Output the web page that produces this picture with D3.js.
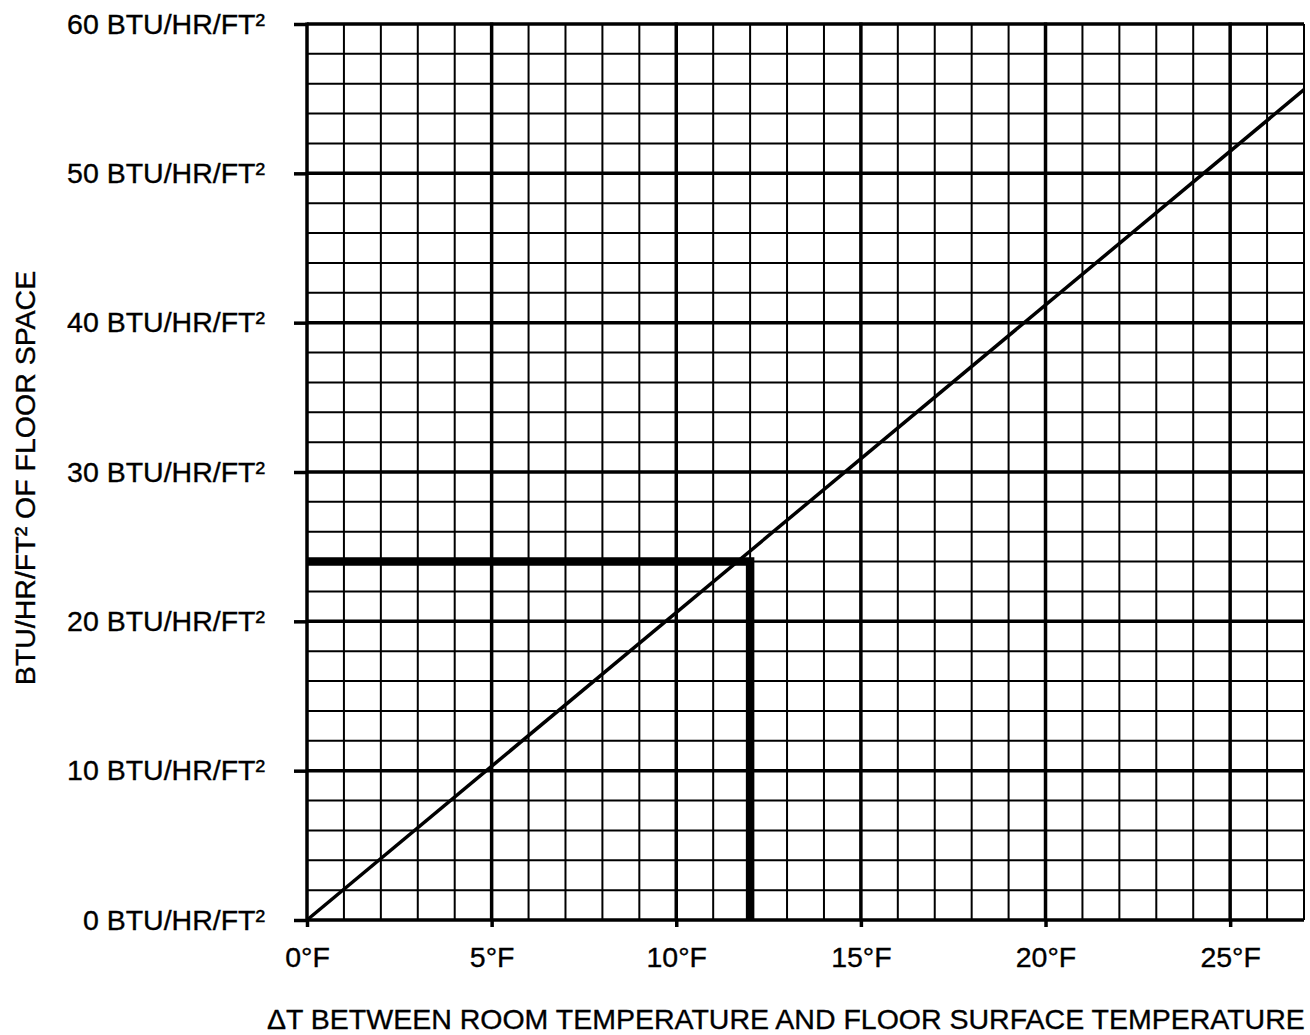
<!DOCTYPE html>
<html lang="en">
<head>
  <meta charset="UTF-8" />
  <title>Radiant floor output vs delta T</title>
  <style>
    body {
      margin: 0;
      background: white;
      overflow: hidden;
    }
    svg {
      display: block;
      font-family: "Liberation Sans", Arial, Helvetica, sans-serif;
    }
    text {
      fill: #000;
      stroke: #000;
      stroke-width: 0.35px;
    }
  </style>
</head>
<body>
<svg id="chart"></svg>
<script src="https://d3js.org/d3.v7.min.js"></script>
<script>
// chart values
const xMajorTicks = [0, 5, 10, 15, 20, 25];
const xTickLabels = ["0°F", "5°F", "10°F", "15°F", "20°F", "25°F"];
const xMinorTicks = d3.range(0, 28, 1);   // one grid line per degree
const yMajorTicks = [0, 10, 20, 30, 40, 50, 60];
const yTickLabels = yMajorTicks.map(v => v + " BTU/HR/FT²");
const yMinorTicks = d3.range(0, 62, 2);   // one grid line per 2 BTU

const lineTemp = [0, 27];
const lineBtu = [0, 55.6];

// the worked example: 12°F -> 24 BTU
const exampleTemp = 12;
const exampleBtu = 24;

const xTitle = "ΔT BETWEEN ROOM TEMPERATURE AND FLOOR SURFACE TEMPERATURE";
const yTitle = "BTU/HR/FT² OF FLOOR SPACE";

const width = 1310;
const height = 1035;
const margin = { top: 24, right: 6, bottom: 115, left: 307 };

const svg = d3.select("#chart")
  .attr("width", width)
  .attr("height", height)
  .attr("viewBox", [0, 0, width, height]);

svg.append("rect")
  .attr("width", width)
  .attr("height", height)
  .attr("fill", "white");

const x = d3.scaleLinear()
  .domain([0, 27])
  .range([margin.left, width - margin.right]);

const y = d3.scaleLinear()
  .domain([0, 60])
  .range([height - margin.bottom, margin.top]);

const x0 = x.range()[0], x1 = x.range()[1];
const y0 = y.range()[0], y1 = y.range()[1];

// minor grid
const grid = svg.append("g").attr("stroke", "#000");

grid.append("g")
  .attr("stroke-width", 2)
  .selectAll("line")
  .data(xMinorTicks.filter(d => !xMajorTicks.includes(d)))
  .join("line")
  .attr("x1", d => x(d)).attr("x2", d => x(d))
  .attr("y1", y1).attr("y2", y0);

grid.append("g")
  .attr("stroke-width", 2)
  .selectAll("line")
  .data(yMinorTicks.filter(d => !yMajorTicks.includes(d)))
  .join("line")
  .attr("y1", d => y(d)).attr("y2", d => y(d))
  .attr("x1", x0).attr("x2", x1);

// major grid lines, heavier
grid.append("g")
  .attr("stroke-width", 3.5)
  .selectAll("line")
  .data(xMajorTicks)
  .join("line")
  .attr("x1", d => x(d)).attr("x2", d => x(d))
  .attr("y1", y1 - 1.5).attr("y2", y0);

grid.append("g")
  .attr("stroke-width", 3.5)
  .selectAll("line")
  .data(yMajorTicks)
  .join("line")
  .attr("y1", d => y(d)).attr("y2", d => y(d))
  .attr("x1", x0).attr("x2", x1);

// axes: ticks stick out past the grid, labels
const fontSize = 28.5;

const xAxis = svg.append("g")
  .attr("transform", `translate(0,${y0})`)
  .call(d3.axisBottom(x)
    .tickValues(xMajorTicks)
    .tickFormat((d, i) => xTickLabels[i])
    .tickSize(7)
    .tickPadding(20));

const yAxis = svg.append("g")
  .attr("transform", `translate(${x0},0)`)
  .call(d3.axisLeft(y)
    .tickValues(yMajorTicks)
    .tickFormat((d, i) => yTickLabels[i])
    .tickSize(13)
    .tickPadding(29));

[xAxis, yAxis].forEach(a => {
  a.select(".domain").remove();
  a.attr("font-family", null).attr("font-size", null);
  a.selectAll(".tick line").attr("stroke", "#000").attr("stroke-width", 3.5);
  a.selectAll(".tick text").attr("fill", "#000").style("font-size", fontSize + "px");
});

// straight output line
const line = d3.line()
  .x(d => x(d[0]))
  .y(d => y(d[1]));

svg.append("path")
  .datum(lineTemp.map((t, i) => [t, lineBtu[i]]))
  .attr("d", line)
  .attr("fill", "none")
  .attr("stroke", "#000")
  .attr("stroke-width", 3.5);

// heavy lead lines for the example reading
svg.append("path")
  .datum([[0, exampleBtu], [exampleTemp, exampleBtu], [exampleTemp, 0]])
  .attr("d", line)
  .attr("fill", "none")
  .attr("stroke", "#000")
  .attr("stroke-width", 8.5)
  .attr("stroke-linejoin", "miter");

// titles
svg.append("text")
  .attr("x", 267)
  .attr("y", 1029)
  .style("font-size", fontSize + "px")
  .text(xTitle);

svg.append("text")
  .attr("transform", `translate(35,478) rotate(-90)`)
  .attr("text-anchor", "middle")
  .style("font-size", fontSize + "px")
  .text(yTitle);
</script>
</body>
</html>
